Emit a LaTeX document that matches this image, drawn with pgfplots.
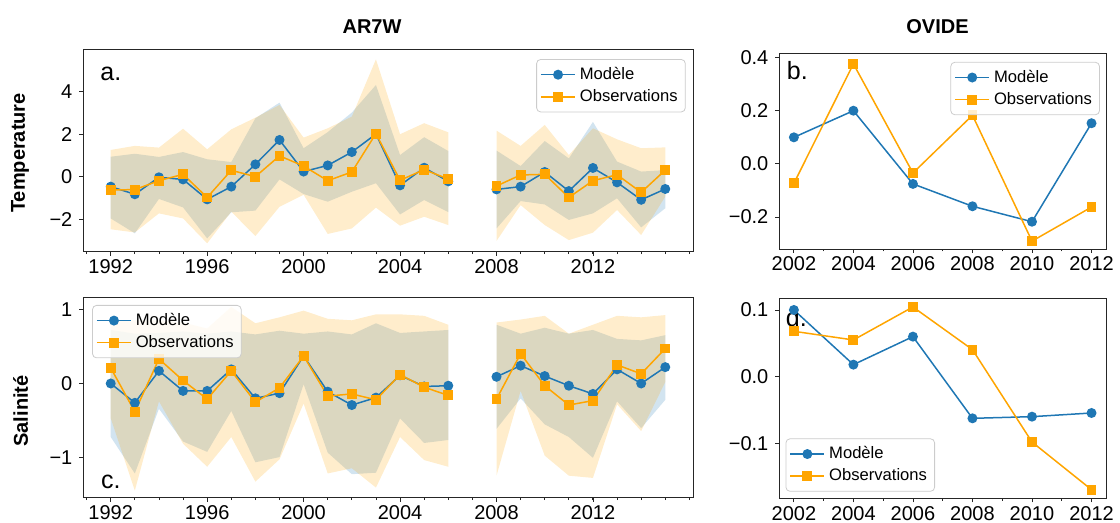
\documentclass[border=0pt]{standalone}
\usepackage{fontspec}
\setmainfont{Liberation Sans}
\usepackage{pgfplots}
\usepackage{pgfplotstable}
\pgfplotsset{compat=1.18}
\usepgfplotslibrary{fillbetween}

\definecolor{cblue}{HTML}{1F77B4}
\definecolor{corange}{HTML}{FFA500}

% AR7W temperature: year, model, obs, model band, obs band
\pgfplotstableread{
year m o mlo mhi olo ohi
1992 -0.47 -0.63 -1.97 0.94 -2.48 1.26
1993 -0.83 -0.61 -2.67 1.08 -2.63 1.45
1994 -0.03 -0.19 -1.05 0.93 -1.73 1.37
1995 -0.13 0.11 -1.45 1.16 -1.97 2.26
1996 -1.07 -0.98 -2.91 0.82 -3.14 1.29
1997 -0.47 0.30 -1.68 0.69 -1.65 2.23
1998 0.58 0.00 -1.60 2.75 -2.80 2.78
1999 1.73 0.98 -0.13 3.49 -1.42 3.38
2000 0.24 0.50 -0.82 1.34 -0.85 1.84
2001 0.53 -0.19 -1.18 2.10 -2.70 2.28
2002 1.16 0.22 -0.71 3.02 -2.44 2.83
2003 2.01 2.03 -0.31 4.32 -1.46 5.53
2004 -0.41 -0.17 -1.78 1.02 -2.31 2.00
2005 0.42 0.33 -1.10 1.86 -1.89 2.52
2006 -0.22 -0.11 -1.67 1.21 -2.28 2.09
}\TAone
\pgfplotstableread{
year m o mlo mhi olo ohi
2008 -0.60 -0.44 -2.44 1.23 -3.03 2.17
2009 -0.47 0.08 -1.15 0.50 -1.34 1.45
2010 0.22 0.11 -1.31 1.68 -2.28 2.44
2011 -0.68 -0.98 -2.04 0.86 -2.99 1.02
2012 0.41 -0.19 -1.73 2.58 -2.64 2.28
2013 -0.27 0.09 -1.02 0.71 -1.57 1.76
2014 -1.09 -0.74 -2.39 0.24 -2.75 1.34
2015 -0.58 0.31 -1.49 0.31 -0.94 1.38
}\TAtwo

% AR7W salinity
\pgfplotstableread{
year m o mlo mhi olo ohi
1992 0.00 0.21 -0.72 0.72 -0.47 0.85
1993 -0.26 -0.38 -1.21 0.67 -1.44 0.85
1994 0.17 0.33 -0.34 0.68 -0.24 0.85
1995 -0.10 0.04 -0.78 0.70 -0.81 0.82
1996 -0.10 -0.21 -0.92 0.67 -1.12 0.74
1997 0.19 0.17 -0.37 0.70 -0.72 1.03
1998 -0.20 -0.25 -1.06 0.66 -1.32 0.81
1999 -0.13 -0.06 -0.99 0.71 -1.02 0.89
2000 0.37 0.37 -0.01 0.67 -0.27 0.98
2001 -0.11 -0.17 -0.93 0.70 -1.21 0.87
2002 -0.29 -0.14 -1.22 0.66 -1.14 0.85
2003 -0.19 -0.22 -1.20 0.81 -1.40 0.93
2004 0.11 0.12 -0.47 0.68 -0.72 0.93
2005 -0.04 -0.05 -0.80 0.70 -1.03 0.91
2006 -0.03 -0.16 -0.76 0.72 -1.12 0.79
}\TSone
\pgfplotstableread{
year m o mlo mhi olo ohi
2008 0.09 -0.21 -0.61 0.79 -1.24 0.82
2009 0.24 0.40 -0.20 0.67 -0.10 0.86
2010 0.10 -0.03 -0.55 0.75 -0.97 0.91
2011 -0.03 -0.29 -0.72 0.67 -1.24 0.67
2012 -0.14 -0.23 -1.00 0.72 -1.27 0.79
2013 0.19 0.25 -0.24 0.60 -0.28 0.91
2014 0.00 0.13 -0.60 0.58 -0.64 0.89
2015 0.22 0.47 -0.22 0.65 0.02 0.92
}\TStwo

% OVIDE
\pgfplotstableread{
year m o
2002 0.099 -0.074
2004 0.199 0.375
2006 -0.076 -0.035
2008 -0.160 0.182
2010 -0.218 -0.291
2012 0.152 -0.163
}\OT
\pgfplotstableread{
year m o
2002 0.100 0.068
2004 0.018 0.055
2006 0.060 0.1045
2008 -0.0625 0.0405
2010 -0.060 -0.098
2012 -0.0545 -0.1695
}\OS

\pgfplotsset{
  panel/.style={
    scale only axis, anchor=south west,
    axis line style={black!85, line width=0.5pt},
    tick style={black!85, line width=0.4pt},
    tick align=outside, xtick pos=bottom, ytick pos=left,
    major tick length=1.8pt, minor tick length=1.1pt,
    tick label style={font=\fontsize{10}{12}\selectfont},
    xticklabel style={yshift=1.5pt},
    /pgf/number format/assume math mode=true,
    /pgf/number format/1000 sep={},
    legend cell align=left,
    legend style={font=\fontsize{8.3}{10}\selectfont, draw=black!20,
      rounded corners=2pt, fill=white, fill opacity=0.8, text opacity=1,
      inner sep=1.8pt, row sep=-0.5pt},
    legend image code/.code={\draw[mark repeat=2,mark phase=2,
        fill opacity=1, draw opacity=1]
      plot coordinates {(0cm,0cm)(0.3cm,0cm)(0.6cm,0cm)};},
  },
  ar/.style={panel, width=305pt,
    xmin=1990.85, xmax=2016.15,
    xtick={1992,1996,2000,2004,2008,2012},
    minor xtick={1991,...,2016}},
  ov/.style={panel, width=163.7pt,
    xmin=2001.5, xmax=2012.5,
    xtick={2002,2004,...,2012},
    minor xtick={2003,2005,...,2011}},
  mod/.style={cblue, line width=0.75pt, mark=*, mark size=2.1pt},
  obs/.style={corange, line width=0.75pt, mark=square*, mark size=2.1pt},
  bandm/.style={fill=cblue, fill opacity=0.2, draw=none},
  bando/.style={fill=corange, fill opacity=0.2, draw=none},
}

% table, upper column, lower column, fill style, path id
\newcommand{\band}[5]{%
  \addplot[name path=#5h, draw=none, forget plot] table[x=year,y=#2]{#1};
  \addplot[name path=#5l, draw=none, forget plot] table[x=year,y=#3]{#1};
  \addplot[#4, forget plot] fill between[of=#5h and #5l];
}

\newcommand{\plab}[1]{\fontsize{12.5}{14}\selectfont #1}

\begin{document}
\begin{tikzpicture}

\node[font=\bfseries\fontsize{10}{12}\selectfont] at (186pt,248pt) {AR7W};
\node[font=\bfseries\fontsize{10}{12}\selectfont] at (468.75pt,248pt) {OVIDE};
\node[rotate=90, font=\bfseries\fontsize{10}{12}\selectfont] at (10pt,185pt) {Temperature};
\node[rotate=90, font=\bfseries\fontsize{10}{12}\selectfont] at (10.3pt,56pt) {Salinité};

% a.
\begin{axis}[ar, at={(41.5pt,135.5pt)}, height=101pt,
    ymin=-3.55, ymax=5.97, ytick={-2,0,2,4}, yticklabels={−2,0,2,4},
    legend style={at={(0.988,0.955)}, anchor=north east}]
  \band{\TAone}{mhi}{mlo}{bandm}{aam}
  \band{\TAone}{ohi}{olo}{bando}{aao}
  \band{\TAtwo}{mhi}{mlo}{bandm}{abm}
  \band{\TAtwo}{ohi}{olo}{bando}{abo}
  \addplot[mod] table[x=year,y=m]{\TAone}; \addlegendentry{Modèle}
  \addplot[obs] table[x=year,y=o]{\TAone}; \addlegendentry{Observations}
  \addplot[mod, forget plot] table[x=year,y=m]{\TAtwo};
  \addplot[obs, forget plot] table[x=year,y=o]{\TAtwo};
  \node[anchor=base west, inner sep=0pt] at (rel axis cs:0.028,0.85) {\plab{a.}};
\end{axis}

% c.
\begin{axis}[ar, at={(41.5pt,12.5pt)}, height=100pt,
    ymin=-1.54, ymax=1.15, ytick={-1,0,1}, yticklabels={−1,0,1},
    legend style={at={(0.015,0.965)}, anchor=north west}]
  \band{\TSone}{mhi}{mlo}{bandm}{cam}
  \band{\TSone}{ohi}{olo}{bando}{cao}
  \band{\TStwo}{mhi}{mlo}{bandm}{cbm}
  \band{\TStwo}{ohi}{olo}{bando}{cbo}
  \addplot[mod] table[x=year,y=m]{\TSone}; \addlegendentry{Modèle}
  \addplot[obs] table[x=year,y=o]{\TSone}; \addlegendentry{Observations}
  \addplot[mod, forget plot] table[x=year,y=m]{\TStwo};
  \addplot[obs, forget plot] table[x=year,y=o]{\TStwo};
  \node[anchor=base west, inner sep=0pt] at (rel axis cs:0.029,0.045) {\plab{c.}};
\end{axis}

% b.
\begin{axis}[ov, at={(389.5pt,136.85pt)}, height=97.7pt,
    ymin=-0.3216, ymax=0.4125, ytick={-0.2,0,0.2,0.4},
    yticklabels={−0.2,0.0,0.2,0.4},
    legend style={at={(0.98,0.959)}, anchor=north east}]
  \addplot[mod] table[x=year,y=m]{\OT}; \addlegendentry{Modèle}
  \addplot[obs] table[x=year,y=o]{\OT}; \addlegendentry{Observations}
  \node[anchor=base west, inner sep=0pt] at (rel axis cs:0.023,0.867) {\plab{b.}};
\end{axis}

% d.
\begin{axis}[ov, at={(389.5pt,12.15pt)}, height=100.2pt,
    ymin=-0.183, ymax=0.1175, ytick={-0.1,0,0.1},
    yticklabels={−0.1,0.0,0.1},
    legend style={at={(0.02,0.035)}, anchor=south west}]
  \addplot[mod] table[x=year,y=m]{\OS}; \addlegendentry{Modèle}
  \addplot[obs] table[x=year,y=o]{\OS}; \addlegendentry{Observations}
  \node[anchor=base west, inner sep=0pt] at (rel axis cs:0.02,0.858) {\plab{d.}};
\end{axis}

\pgfresetboundingbox
\useasboundingbox (0pt,0pt) rectangle (560pt,261.5pt);
\end{tikzpicture}
\end{document}
